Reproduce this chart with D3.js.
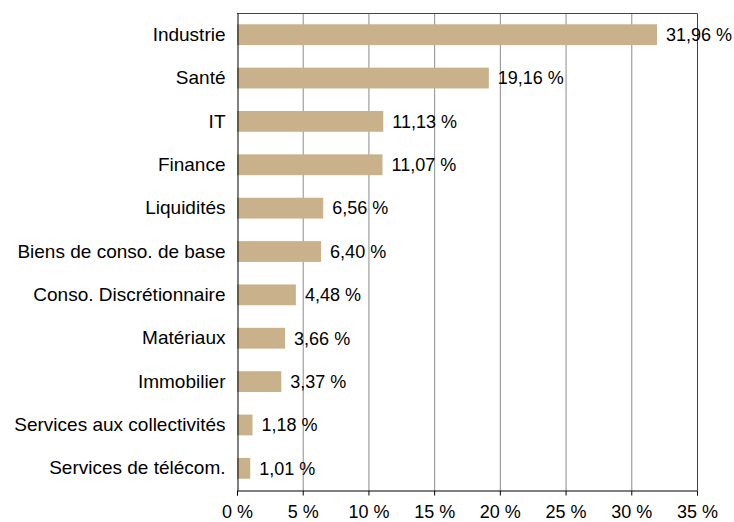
<!DOCTYPE html>
<html>
<head>
<meta charset="utf-8">
<script src="https://cdn.jsdelivr.net/npm/d3@7"></script>
<style>
    body { margin: 0; background: #fff; }
    text { font-family: "Liberation Sans", Arial, sans-serif; fill: #000; }
</style>
</head>
<body>
<svg></svg>
<script>
// Data
let categories = ['Industrie', 'Santé', 'IT', 'Finance', 'Liquidités', 'Biens de conso. de base',
    'Conso. Discrétionnaire', 'Matériaux', 'Immobilier', 'Services aux collectivités', 'Services de télécom.']
let values = [31.96, 19.16, 11.13, 11.07, 6.56, 6.40, 4.48, 3.66, 3.37, 1.18, 1.01]
let xTicks = [0, 5, 10, 15, 20, 25, 30, 35]

let dataset = categories.map((c, i) => ({ name: c, value: values[i] }))

// Dimensions
let width = 734
let height = 522
let margin = { top: 13, right: 37, bottom: 32, left: 237 }
let fontSize = '18px'

let fmt = v => v.toFixed(2).replace('.', ',') + ' %'

let scale = {
    x: d3.scaleLinear().domain([0, 35]).range([margin.left, width - margin.right]),
    y: d3.scaleBand().domain(categories).range([margin.top, height - margin.bottom])
        .paddingInner(0.52).paddingOuter(0.26)
}

let svg = d3.select('svg')
    .attr('width', width)
    .attr('height', height)

let plotTop = margin.top
let plotBottom = height - margin.bottom

// Gridlines
svg.append('g')
    .selectAll('line')
    .data(xTicks.slice(1, -1))
    .enter()
    .append('line')
    .attr('x1', d => scale.x(d) + 0.5)
    .attr('x2', d => scale.x(d) + 0.5)
    .attr('y1', plotTop)
    .attr('y2', plotBottom)
    .attr('stroke', '#8c8c8c')
    .attr('stroke-width', 1)

// Frame top / right
svg.append('path')
    .attr('d', `M${margin.left},${plotTop + 0.5}H${scale.x(35) + 0.5}V${plotBottom}`)
    .attr('fill', 'none')
    .attr('stroke', '#444')
    .attr('stroke-width', 1)

// Bars
svg.selectAll('rect.bar')
    .data(dataset)
    .enter()
    .append('rect')
    .attr('class', 'bar')
    .attr('x', scale.x(0))
    .attr('y', d => scale.y(d.name))
    .attr('width', d => scale.x(d.value) - scale.x(0))
    .attr('height', scale.y.bandwidth())
    .attr('fill', '#c9b28b')

// Value labels
svg.selectAll('text.value')
    .data(dataset)
    .enter()
    .append('text')
    .attr('class', 'value')
    .attr('x', d => scale.x(d.value) + 9)
    .attr('y', d => scale.y(d.name) + scale.y.bandwidth() / 2)
    .attr('dy', '0.35em')
    .style('font-size', fontSize)
    .text(d => fmt(d.value))

// X axis
let xAxis = svg.append('g')
    .attr('transform', `translate(0,${plotBottom + 0.5})`)
    .call(d3.axisBottom(scale.x).tickValues(xTicks).tickSize(5).tickPadding(10)
        .tickFormat(d => d + ' %'))
xAxis.select('.domain').attr('stroke', '#000')
xAxis.selectAll('.tick line').attr('stroke', '#000')
xAxis.selectAll('text').style('font-size', fontSize).attr('font-family', '"Liberation Sans", Arial, sans-serif')

// Y axis
let yAxis = svg.append('g')
    .attr('transform', `translate(${margin.left + 0.5},0)`)
    .call(d3.axisLeft(scale.y).tickSize(0).tickPadding(12))
yAxis.select('.domain').attr('stroke', '#000')
yAxis.selectAll('text').style('font-size', '19px').attr('font-family', '"Liberation Sans", Arial, sans-serif')
</script>
</body>
</html>
